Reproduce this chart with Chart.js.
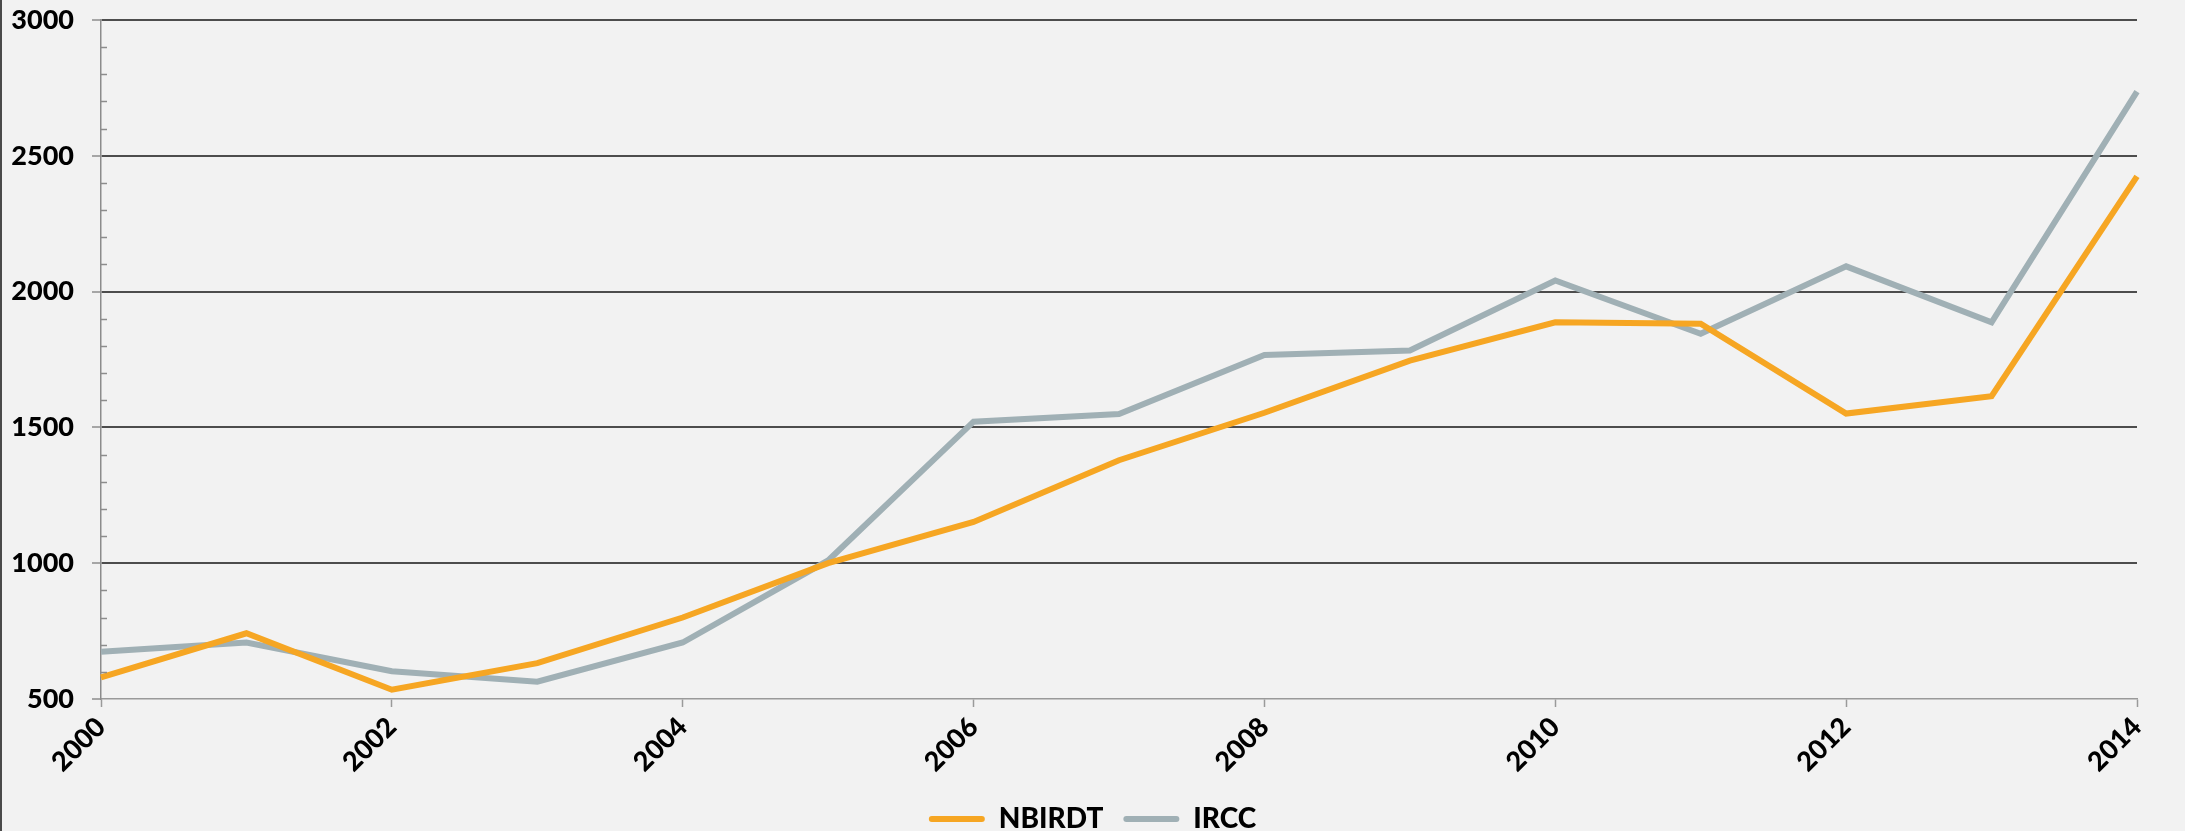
<!DOCTYPE html>
<html>
<head>
<meta charset="utf-8">
<script src="https://cdn.jsdelivr.net/npm/chart.js@4/dist/chart.umd.min.js"></script>
<style>
  html, body { margin: 0; padding: 0; background: #f2f2f2; }
  #wrap { position: relative; width: 2185px; height: 831px; }
</style>
</head>
<body>
<div id="wrap"><canvas id="chart" width="2185" height="831"></canvas></div>
<script>
// Years on the horizontal axis
const years = ['2000','2001','2002','2003','2004','2005','2006','2007','2008','2009','2010','2011','2012','2013','2014'];

// Yearly counts per organisation
const nbirdt = [580, 742, 534, 632, 800, 1000, 1152, 1379, 1554, 1746, 1887, 1882, 1551, 1615, 2424];
const ircc   = [674, 708, 602, 564, 708, 1010, 1521, 1549, 1767, 1783, 2041, 1845, 2093, 1887, 2736];

// Value axis range and label spacing
const yMin = 500;
const yMax = 3000;
const yMajor = 500;
const yMinor = 100;

const ORANGE = '#f6a623';
const SLATE = '#a0b0b5';
const FONT = 'Lato, "Open Sans", "DejaVu Sans", sans-serif';

Chart.defaults.font.family = FONT;
Chart.defaults.color = '#000';

// Short minor ticks drawn on the inner side of the value axis,
// plus the thin frame edge on the left of the canvas.
const minorTicks = {
  id: 'minorTicks',
  afterDraw(chart) {
    const ctx = chart.ctx;
    const y = chart.scales.y;
    ctx.save();
    ctx.strokeStyle = '#8c8c8c';
    ctx.lineWidth = 1.5;
    y.ticks.forEach(t => {
      if (t.value % yMajor === 0) return;
      const py = Math.round(y.getPixelForValue(t.value)) + 0.5;
      ctx.beginPath();
      ctx.moveTo(y.right, py);
      ctx.lineTo(y.right + 6, py);
      ctx.stroke();
    });
    ctx.strokeStyle = '#4a4a4a';
    ctx.lineWidth = 2;
    ctx.beginPath();
    ctx.moveTo(1, 0);
    ctx.lineTo(1, chart.height);
    ctx.stroke();
    ctx.restore();
  }
};

new Chart(document.getElementById('chart'), {
  type: 'line',
  data: {
    labels: years,
    datasets: [
      { label: 'NBIRDT', data: nbirdt, borderColor: ORANGE, backgroundColor: ORANGE,
        borderWidth: 6, pointRadius: 0, tension: 0, fill: false },
      { label: 'IRCC', data: ircc, borderColor: SLATE, backgroundColor: SLATE,
        borderWidth: 6, pointRadius: 0, tension: 0, fill: false }
    ]
  },
  options: {
    responsive: false,
    animation: false,
    events: [],
    layout: { padding: { left: 0, right: 0, top: 20, bottom: -12 } },
    scales: {
      x: {
        type: 'category',
        offset: false,
        afterFit(scale) {
          scale.height = 86;
          scale.paddingRight = 48;
        },
        border: { display: true, color: '#9a9a9a', width: 1.5 },
        grid: {
          drawOnChartArea: false,
          drawTicks: true,
          tickLength: 8,
          tickColor: ctx => (ctx.index % 2 === 0 ? '#9a9a9a' : 'rgba(0,0,0,0)'),
          tickWidth: 1.5
        },
        ticks: {
          autoSkip: false,
          maxRotation: 45,
          minRotation: 45,
          padding: 4,
          font: { size: 27, weight: 900 },
          callback(value, index) { return index % 2 === 0 ? years[index] : ''; }
        }
      },
      y: {
        min: yMin,
        max: yMax,
        afterFit(scale) {
          scale.width = 101;
          scale.paddingTop = 0;
          scale.paddingBottom = 0;
        },
        border: { display: true, color: '#8c8c8c', width: 1.5 },
        grid: {
          drawOnChartArea: true,
          color: ctx => (ctx.tick && ctx.tick.value % yMajor === 0 && ctx.tick.value !== yMin ? '#4d4d4d' : 'rgba(0,0,0,0)'),
          lineWidth: 2,
          drawTicks: true,
          tickLength: 9,
          tickColor: ctx => (ctx.tick && ctx.tick.value % yMajor === 0 ? '#8c8c8c' : 'rgba(0,0,0,0)'),
          tickWidth: 1.5
        },
        ticks: {
          autoSkip: false,
          stepSize: yMinor,
          padding: 18,
          font: { size: 27, weight: 900 },
          callback(value) { return value % yMajor === 0 ? String(value) : ''; }
        }
      }
    },
    plugins: {
      tooltip: { enabled: false },
      legend: {
        position: 'bottom',
        labels: {
          boxWidth: 56,
          boxHeight: 6,
          padding: 20,
          font: { size: 28, weight: 900 },
          generateLabels(chart) {
            return chart.data.datasets.map((ds, i) => ({
              text: ds.label,
              fillStyle: ds.borderColor,
              strokeStyle: ds.borderColor,
              lineWidth: 0,
              borderRadius: 3,
              hidden: false,
              datasetIndex: i,
              fontColor: '#000'
            }));
          }
        }
      }
    }
  },
  plugins: [minorTicks]
});
</script>
</body>
</html>
